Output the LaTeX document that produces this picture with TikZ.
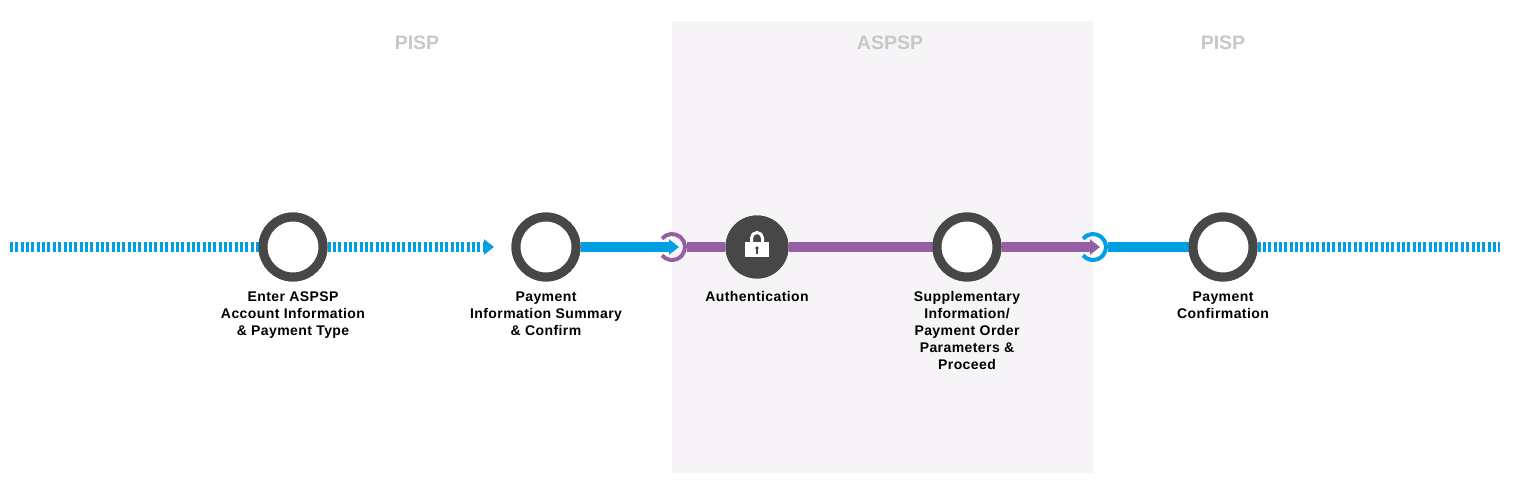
\documentclass[tikz,border=0pt]{standalone}
\usepackage{fontspec}
\setmainfont{Liberation Sans}
\newfontfamily\labfont[LetterSpace=3]{Liberation Sans}
\usetikzlibrary{arrows.meta}
\definecolor{cblue}{HTML}{009FE3}
\definecolor{cpurple}{HTML}{9460A3}
\definecolor{cgray}{HTML}{474747}
\definecolor{cbg}{HTML}{F6F4F7}
\definecolor{ctop}{HTML}{C8C8C8}
\begin{document}
\begin{tikzpicture}[x=1pt,y=-1pt,
  stepnode/.style={circle,draw=cgray,line width=9pt,fill=white,minimum size=60pt,inner sep=0pt},
  locknode/.style={circle,fill=cgray,minimum size=63pt,inner sep=0pt},
  ringnode/.style={circle,minimum size=30pt,inner sep=0pt},
  lab/.style={anchor=north,align=center,inner sep=0pt,font=\labfont\bfseries\fontsize{14}{17}\selectfont},
  toplab/.style={text=ctop,font=\bfseries\fontsize{19.5}{22}\selectfont},
  dashline/.style={cblue,line width=9.5pt,dash pattern=on 3pt off 2.35pt},
  solidline/.style={line width=9.5pt},
  tip/.style={-{Triangle[length=10pt,width=15pt]}},
]
\useasboundingbox (0,0) rectangle (1514,484);
\fill[cbg] (672,21) rectangle (1093,473);

\node[toplab] (t1) at (417,43) {PISP};
\node[toplab] (t2) at (890,43) {ASPSP};
\node[toplab] (t3) at (1223,43) {PISP};

\coordinate (start) at (10,247);
\coordinate (dtip) at (494,247);
\coordinate (end) at (1500,247);
\node[ringnode] (r1) at (672,247) {};
\node[ringnode] (r2) at (1093,247) {};
\coordinate (btip) at (679,247);
\coordinate (ptip) at (1100,247);

\node[stepnode] (n1) at (293,247) {};
\node[stepnode] (n2) at (546,247) {};
\node[locknode] (lock) at (757,247) {};
\node[stepnode] (n4) at (967,247) {};
\node[stepnode] (n5) at (1223,247) {};

% connectors
\draw[dashline] (start) -- (n1.west);
\draw[dashline,tip] (n1.east) -- (dtip);
\draw[solidline,cblue,tip] (n2.east) -- (btip);
\draw[solidline,cpurple] (r1.east) -- (lock.west);
\draw[solidline,cpurple] (lock.east) -- (n4.west);
\draw[solidline,cpurple,tip] (n4.east) -- (ptip);
\draw[solidline,cblue] (r2.east) -- (n5.west);
\draw[dashline] (n5.east) -- (end);

% rings
\draw[cpurple,line width=4pt] ([shift={(140:13pt)}]r1.center) arc[start angle=140,end angle=-140,radius=13pt];
\draw[cblue,line width=4pt] ([shift={(140:13pt)}]r2.center) arc[start angle=140,end angle=-140,radius=13pt];

% redraw nodes on top
\node[stepnode] at (n1) {};
\node[stepnode] at (n2) {};
\node[locknode] at (lock) {};
\node[stepnode] at (n4) {};
\node[stepnode] at (n5) {};

% padlock
\draw[white,line width=3pt] (751.5,242) -- (751.5,238) arc[start angle=180,end angle=0,radius=5.5pt] -- (762.5,242);
\fill[white] (745,241.5) rectangle (769,257);
\fill[cgray] (757,248) circle[radius=1.8pt];
\fill[cgray] (756,248) rectangle (758,254);

% labels
\node[lab] (l1) at (293,291.5) {Enter ASPSP\\Account Information\\\& Payment Type};
\node[lab] (l2) at (546,291.5) {Payment\\Information Summary\\\& Confirm};
\node[lab] (l3) at (757,291.5) {Authentication};
\node[lab] (l4) at (967,291.5) {Supplementary\\Information/\\Payment Order\\Parameters \&\\Proceed};
\node[lab] (l5) at (1223,291.5) {Payment\\Confirmation};
\end{tikzpicture}
\end{document}
